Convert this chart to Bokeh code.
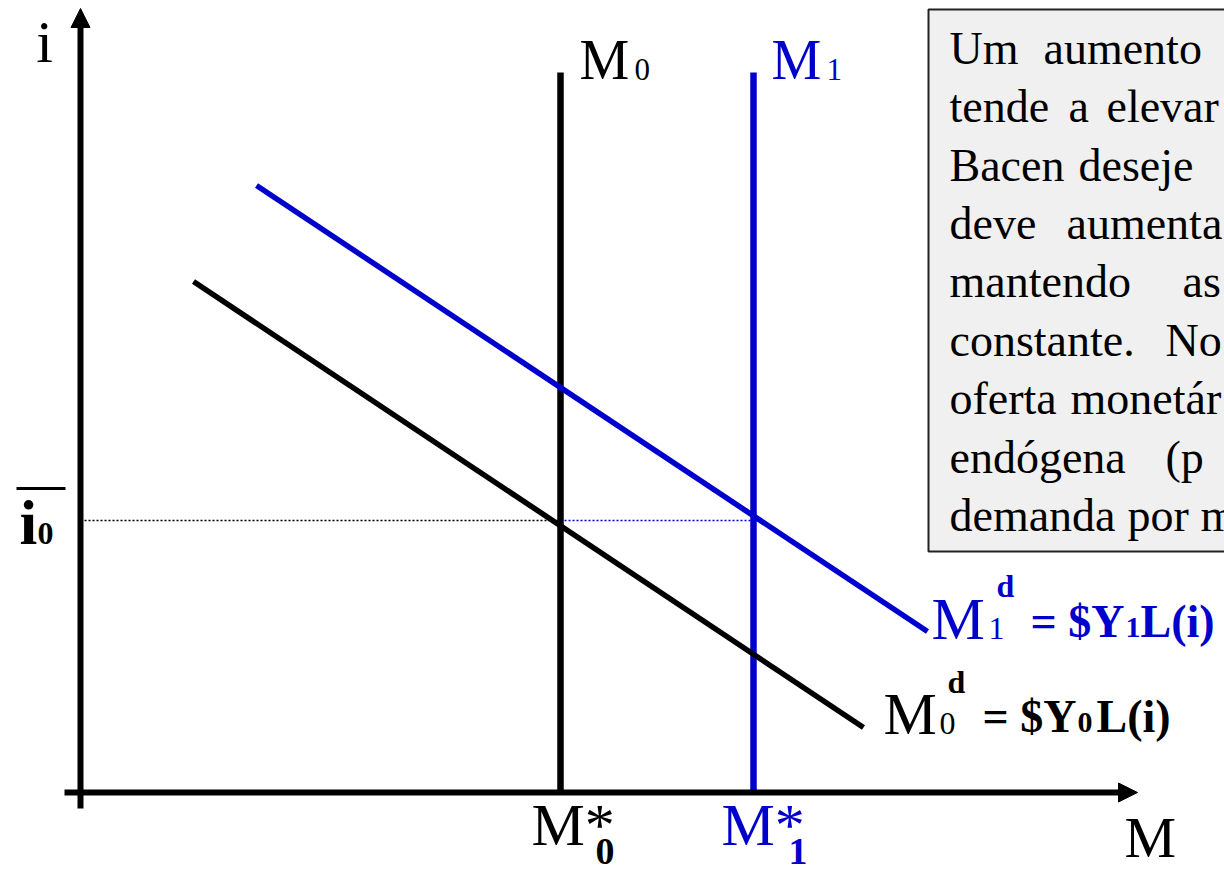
from bokeh.plotting import figure
from bokeh.models import Range1d, Arrow, NormalHead
from bokeh.core.properties import value
from bokeh.embed import file_html
from bokeh.resources import INLINE

# ---------------- data (diagram units, origin where the axes cross) ----------------
supply_names = ["M0", "M1"]
supply_levels = [480, 673]          # M*0 , M*1
supply_top = 720                    # upper end of the vertical supply lines
i0_level = 272                      # target interest rate i0 (bar)
demand_names = ["M0d", "M1d"]
demand_m_start = [113, 176]
demand_i_start = [511, 607]
demand_m_end = [783, 847]
demand_i_end = [65, 161]

box_lines = [
    ["Um", "aumento"],
    ["tende", "a", "elevar"],
    ["Bacen", "deseje"],
    ["deve", "aumenta"],
    ["mantendo", "as"],
    ["constante.", "No"],
    ["oferta", "monetár"],
    ["endógena", "(p"],
    ["demanda", "por", "m"],
]
box_word_x = [
    [949, 1043],
    [949, 1068, 1106],
    [949, 1078],
    [949, 1066],
    [949, 1182],
    [949, 1165],
    [949, 1070],
    [949, 1165],
    [949, 1127, 1200],
]

BLUE = "#0000CC"
BLACK = "#000000"
SERIF = value("Liberation Serif")
BASE_SHIFT = 0.365   # compensation of the svg text baseline placement (fraction of font size)

p = figure(width=1224, height=871,
           x_range=Range1d(-80, 1144), y_range=Range1d(-79, 792),
           output_backend="svg", toolbar_location=None,
           x_axis_location=None, y_axis_location=None,
           min_border=0, outline_line_color=None)
p.grid.visible = False
p.background_fill_color = "white"
p.border_fill_color = "white"


def rx(x):
    return x - 80


def ry(y):
    return 792 - y


def label(x, y, txt, size, bold=False, color=BLACK, align="left"):
    p.text(x=[rx(x)], y=[ry(y) + BASE_SHIFT * size], text=[txt], text_font=SERIF,
           text_font_size=f"{size}px", text_color=color,
           text_font_style="bold" if bold else "normal",
           text_baseline="alphabetic", text_align=align)


# ---------------- text box ----------------
p.quad(left=[rx(928)], right=[1200], top=[ry(9)], bottom=[ry(551)],
       fill_color="#F0F0F0", line_color="#222222", line_width=2)
for k, (words, xs) in enumerate(zip(box_lines, box_word_x)):
    base = 64.5 + 58.4 * k
    for w, x in zip(words, xs):
        label(x, base, w, 46)

# ---------------- guide line at i0 ----------------
p.segment(x0=[0], y0=[i0_level], x1=[supply_levels[0]], y1=[i0_level],
          line_color=BLACK, line_width=1.6, line_dash="2 2")
p.segment(x0=[supply_levels[0]], y0=[i0_level], x1=[supply_levels[1]], y1=[i0_level],
          line_color=BLUE, line_width=1.6, line_dash="2 2")

# ---------------- supply and demand ----------------
p.segment(x0=supply_levels, y0=[0, 0], x1=supply_levels, y1=[supply_top, supply_top],
          line_color=[BLACK, BLUE], line_width=6.5)
p.segment(x0=demand_m_start, y0=demand_i_start, x1=demand_m_end, y1=demand_i_end,
          line_color=[BLACK, BLUE], line_width=5.5)

# ---------------- axes ----------------
p.add_layout(Arrow(end=NormalHead(size=19, fill_color=BLACK, line_color=BLACK, line_width=1),
                   x_start=-16, y_start=0, x_end=1057, y_end=0,
                   line_width=6, line_color=BLACK))
p.add_layout(Arrow(end=NormalHead(size=19, fill_color=BLACK, line_color=BLACK, line_width=1),
                   x_start=0, y_start=-16, x_end=0, y_end=784,
                   line_width=6, line_color=BLACK))

# ---------------- labels ----------------
label(44, 63, "i", 60, align="center")
label(19, 545, "i", 64, bold=True)
label(37, 545, "0", 32, bold=True)
p.segment(x0=[rx(16)], y0=[ry(488)], x1=[rx(65)], y1=[ry(488)], line_color=BLACK, line_width=3)

label(579, 80, "M", 56)
label(634, 80, "0", 31)
label(771, 80, "M", 56, color=BLUE)
label(826, 80, "1", 31, color=BLUE)

label(531, 846, "M*", 60)
label(595, 865, "0", 38, bold=True)
label(721, 846, "M*", 60, color=BLUE)
label(788, 865, "1", 38, bold=True, color=BLUE)

label(1124, 858, "M", 58)

# M1d = $Y1L(i)
label(931, 640, "M", 60, color=BLUE)
label(988, 640, "1", 32, color=BLUE)
label(996, 597, "d", 32, bold=True, color=BLUE)
label(1030, 638, "= $Y", 46, bold=True, color=BLUE)
label(1125, 638, "1", 30, bold=True, color=BLUE)
label(1140, 638, "L(i)", 46, bold=True, color=BLUE)

# M0d = $Y0L(i)
label(883, 735, "M", 60)
label(939, 735, "0", 32)
label(947, 693, "d", 32, bold=True)
label(982, 733, "= $Y", 46, bold=True)
label(1077, 733, "0", 30, bold=True)
label(1096, 733, "L(i)", 46, bold=True)

open("out.html", "w").write(file_html(p, INLINE))
